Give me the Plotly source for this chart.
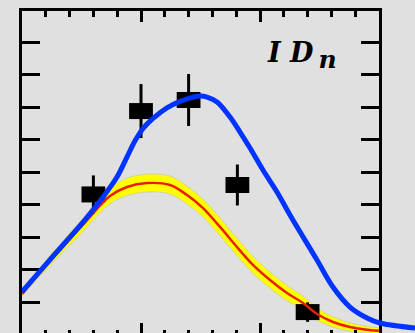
import plotly.graph_objects as go

# ---- data (arbitrary units) ----
blue_x = [0.0, 0.218, 0.529, 0.681, 0.798, 0.882, 0.950, 1.017, 1.101, 1.218, 1.328,
          1.437, 1.496, 1.555, 1.639, 1.748, 1.832, 1.916, 2.025, 2.143, 2.252,
          2.479, 2.613, 2.756, 2.899, 3.008, 3.303]
blue_y = [0.262, 0.446, 0.705, 0.846, 0.969, 1.092, 1.192, 1.268, 1.330, 1.395, 1.435,
          1.460, 1.467, 1.461, 1.431, 1.338, 1.246, 1.148, 1.012, 0.877, 0.735,
          0.458, 0.292, 0.169, 0.102, 0.071, 0.040]

red_x = [0.0, 0.218, 0.504, 0.739, 0.882, 1.050, 1.244, 1.387, 1.521, 1.664,
         1.807, 1.941, 2.084, 2.227, 2.361, 2.479, 2.613, 2.756, 2.882, 3.008]
red_y = [0.249, 0.440, 0.668, 0.852, 0.908, 0.932, 0.920, 0.858, 0.778, 0.662,
         0.538, 0.428, 0.335, 0.255, 0.194, 0.126, 0.077, 0.046, 0.031, 0.022]
band_hw = [0.012, 0.028, 0.040, 0.048, 0.053, 0.055, 0.055, 0.055, 0.055, 0.055,
           0.054, 0.052, 0.050, 0.047, 0.043, 0.038, 0.032, 0.026, 0.021, 0.018]

pts_x = [0.60, 1.00, 1.40, 1.81, 2.40]
pts_y = [0.862, 1.375, 1.443, 0.920, 0.138]
pts_err = [0.117, 0.166, 0.160, 0.126, 0.060]
pts_xw = [0.10, 0.10, 0.10, 0.10, 0.10]

label_text = "<b><i>I D<sub><span style='font-size:25px'>\u2009n</span></sub></i></b>"

# ---- layout geometry ----
W, H = 415, 333
ML, MR, MT, MB = 22, 0, 11, 0
PW = W - ML - MR
PH = H - MT - MB
frame_right_px = 379
XF = (frame_right_px - ML) / PW
X_MAX = 3.0
Y_RANGE = [(334.5 - 333) / 162.5, (334.5 - 11) / 162.5]

BG = "rgb(224,224,224)"
CLEAR = "rgba(0,0,0,0)"

lower = [r - h for r, h in zip(red_y, band_hw)]
upper = [r + h for r, h in zip(red_y, band_hw)]

fig = go.Figure()

fig.add_trace(go.Scatter(x=red_x, y=lower, mode="lines",
                         line=dict(color="rgb(205,205,160)", width=0.8, shape="spline"),
                         hoverinfo="skip", showlegend=False))
fig.add_trace(go.Scatter(x=red_x, y=upper, mode="lines", fill="tonexty", fillcolor="#ffff00",
                         line=dict(color="rgb(205,205,160)", width=0.8, shape="spline"),
                         hoverinfo="skip", showlegend=False))

fig.add_trace(go.Scatter(
    x=pts_x, y=pts_y, mode="markers",
    marker=dict(symbol="square", size=12, color="black"),
    error_x=dict(type="data", array=pts_xw, thickness=16, width=0, color="black"),
    error_y=dict(type="data", array=pts_err, thickness=3, width=0, color="black"),
    showlegend=False))

fig.add_trace(go.Scatter(x=red_x, y=red_y, mode="lines",
                         line=dict(color="#e82000", width=2.5, shape="spline"), showlegend=False))

fig.add_trace(go.Scatter(x=[None], y=[None], xaxis="x2", showlegend=False))

fig.add_trace(go.Scatter(x=blue_x, y=blue_y, mode="lines", xaxis="x3", yaxis="y3",
                         line=dict(color="#0033ff", width=5, shape="spline"), showlegend=False))

tick_common = dict(showticklabels=False, showgrid=False, zeroline=False, tickcolor="black", tickwidth=3)

fig.update_layout(
    width=W, height=H,
    margin=dict(l=ML, r=MR, t=MT, b=MB, pad=0),
    paper_bgcolor=BG, plot_bgcolor=CLEAR,
    hovermode=False,
    xaxis=dict(domain=[0, XF], range=[0, X_MAX], showline=True, linewidth=3, linecolor="black",
               mirror=True, ticks="inside", tick0=0, dtick=1, ticklen=10,
               minor=dict(dtick=0.2, tick0=0, ticks="inside", ticklen=3, tickwidth=3,
                          tickcolor="black", showgrid=False),
               **tick_common),
    xaxis2=dict(overlaying="x", side="top", range=[0, X_MAX], showline=False,
                ticks="inside", tick0=0, dtick=1, ticklen=11,
                minor=dict(dtick=0.2, tick0=0, ticks="inside", ticklen=6, tickwidth=3,
                           tickcolor="black", showgrid=False),
                **tick_common),
    yaxis=dict(domain=[0, 1], range=Y_RANGE, showline=True, linewidth=3, linecolor="black",
               mirror="allticks", ticks="inside", tick0=0, dtick=1, ticklen=18,
               minor=dict(dtick=0.2, tick0=0, ticks="inside", ticklen=7, tickwidth=3,
                          tickcolor="black", showgrid=False),
               **tick_common),
    xaxis3=dict(domain=[0, 1], range=[0, X_MAX / XF], visible=False, anchor="y3"),
    yaxis3=dict(domain=[0, 1], range=Y_RANGE, visible=False, anchor="x3"),
    showlegend=False,
    annotations=[dict(text=label_text, xref="paper", yref="paper",
                      x=(265 - ML) / PW, y=(H - 55) / PH,
                      xanchor="left", yanchor="middle", showarrow=False,
                      font=dict(family="DejaVu Serif", size=27, color="black"))],
)

fig.write_html("out.html", config={"displayModeBar": False, "staticPlot": True},
               post_script="document.body.style.margin='0';document.body.style.background='rgb(224,224,224)';")
